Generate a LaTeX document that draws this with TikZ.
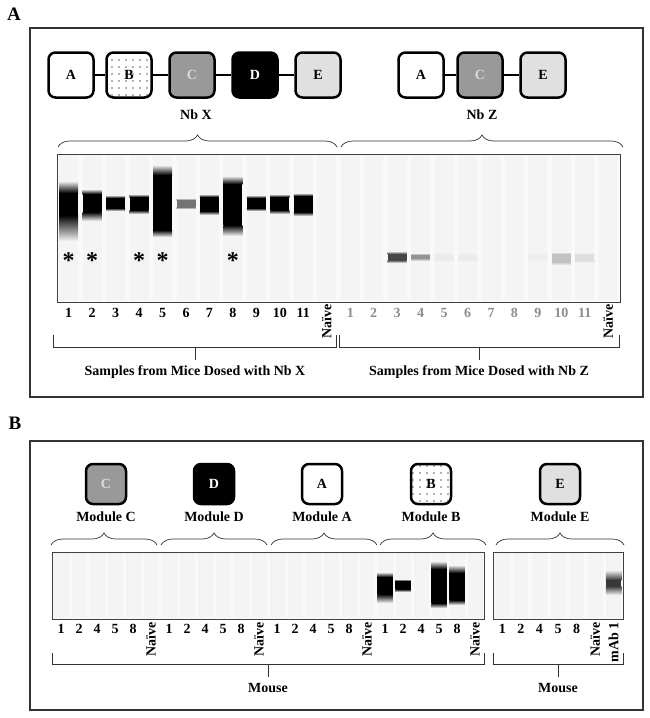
\documentclass[tikz,border=0pt]{standalone}
\usepackage{fontspec}
\setmainfont{Liberation Serif}
\usetikzlibrary{decorations.pathreplacing,patterns.meta}

\definecolor{modC}{gray}{0.6}
\definecolor{modE}{gray}{0.88}
\definecolor{gelbg}{gray}{0.975}
\definecolor{lanebg}{gray}{0.958}

% fuzzy gel band: x, width, fade top, core top, core bottom, fade bottom, colour
\newcommand{\gband}[7]{%
  \shade[top color=lanebg, bottom color=#7] ({#1-#2/2},#3) rectangle ({#1+#2/2},#4);
  \fill[#7] ({#1-#2/2},#4) rectangle ({#1+#2/2},#5);
  \shade[top color=#7, bottom color=lanebg] ({#1-#2/2},#5) rectangle ({#1+#2/2},#6);
}

\begin{document}
\begin{tikzpicture}[
    x=1pt, y=-1pt,
    every node/.style={font=\bfseries\fontsize{14}{16}\selectfont, inner sep=0pt},
    module/.style={draw, line width=2.5pt, rounded corners=7pt, minimum size=#1},
    dotted module/.style={module=#1, pattern={Dots[distance=7pt, radius=0.95pt]}, pattern color=black!60},
    link/.style={line width=2.5pt},
    panel/.style={draw=black!80, line width=1.2pt},
    gelbox/.style={draw=black!75, line width=1pt, fill=gelbg},
    topbrace/.style={decorate, decoration={brace, amplitude=12pt}, line width=0.7pt, draw=black!80},
    bracket/.style={line width=0.8pt, draw=black!80},
    naive/.style={rotate=90, anchor=east},
    ast/.style={font=\bfseries\fontsize{24}{24}\selectfont},
    panellabel/.style={font=\bfseries\fontsize{19}{19}\selectfont}
]
\useasboundingbox (0,0) rectangle (650,718);

% ---------------- Panel A ----------------
\node[panellabel] (labA) at (14,14) {A};
\draw[panel] (30,28) rectangle (643,397);

% Modules
\node[module=45] (xA) at (71,75) {A};
\node[dotted module=45] (xB) at (129,75) {B};
\node[module=45, fill=modC, text=black!15] (xC) at (192,75) {C};
\node[module=45, fill=black, text=white] (xD) at (255,75) {D};
\node[module=45, fill=modE] (xE) at (318,75) {E};
\node[module=45] (zA) at (421,75) {A};
\node[module=45, fill=modC, text=black!15] (zC) at (480,75) {C};
\node[module=45, fill=modE] (zE) at (543,75) {E};
\draw[link] (xA) -- (xB) -- (xC) -- (xD) -- (xE);
\draw[link] (zA) -- (zC) -- (zE);
\node (nbx) at (196,115) {Nb X};
\node (nbz) at (482,115) {Nb Z};

% Braces
\coordinate (bxl) at (58,147);  \coordinate (bxr) at (337,147);
\coordinate (bzl) at (341,147); \coordinate (bzr) at (623,147);
\draw[topbrace] (bxl) -- (bxr);
\draw[topbrace] (bzl) -- (bzr);

% Gel
\draw[gelbox] (57,154) rectangle (620,302);
\foreach \i in {1,...,24}
  \fill[lanebg] ({57+23.46*(\i-0.5)-9.5},155) rectangle ++(19,146);
\foreach \i/\a/\b/\c/\d/\col in {1/181/193/215/241/black, 2/189/194/212/221/black,
    3/195/198/208/211/black, 4/194/197/210/214/black, 5/165/175/230/237/black,
    6/198/200/207/209/black!55, 7/194/197/211/215/black, 8/176/184/225/236/black,
    9/195/198/208/211/black, 10/194/197/210/214/black, 11/193/196/212/216/black,
    15/251/254/260/263/black!72, 16/253/255/258/261/black!42, 17/252/255/259/262/black!8,
    18/252/255/259/262/black!8, 21/252/255/259/262/black!7, 22/252/254/262/265/black!24,
    23/252/255/260/263/black!13}
  \gband{57+23.46*(\i-0.5)}{19}{\a}{\b}{\c}{\d}{\col};
\foreach \i in {1,2,4,5,8}
  \node[ast] (ast\i) at ({57+23.46*(\i-0.5)},261) {*};

% Lane labels
\foreach \i in {1,...,11} {
  \node (nx\i) at ({57+23.46*(\i-0.5)},313) {\i};
  \node[text=black!45] (nz\i) at ({57+23.46*(\i+11.5)},313) {\i};
}
\node[naive] (nxN) at ({57+23.46*11.5},304) {Naïve};
\node[naive] (nzN) at ({57+23.46*23.5},304) {Naïve};

% Brackets
\coordinate (sxl) at (53,335);    \coordinate (sxr) at (336.5,335);
\coordinate (szl) at (339.5,335); \coordinate (szr) at (619,335);
\coordinate (sxt) at (195,347);   \coordinate (szt) at (479,347);
\draw[bracket] (sxl) -- ++(0,12) -| (sxr);
\draw[bracket] (szl) -- ++(0,12) -| (szr);
\draw[bracket] (sxt) -- ++(0,13);
\draw[bracket] (szt) -- ++(0,13);
\node (sxlab) at (195,372) {Samples from Mice Dosed with Nb X};
\node (szlab) at (479,372) {Samples from Mice Dosed with Nb Z};

% ---------------- Panel B ----------------
\node[panellabel] (labB) at (15,423) {B};
\draw[panel] (30,441) rectangle (643,710);

% Modules
\node[module=40, fill=modC, text=black!15] (mC) at (106,484) {C};
\node[module=40, fill=black, text=white] (mD) at (214,484) {D};
\node[module=40] (mA) at (322,484) {A};
\node[dotted module=40] (mB) at (431,484) {B};
\node[module=40, fill=modE] (mE) at (560,484) {E};
\foreach \m in {C,D,A,B,E}
  \node (lab\m) at ([yshift=-33]m\m.center) {Module \m};

% Braces
\foreach \m/\l/\r in {C/51/157, D/161/267, A/271/377, B/380/486, E/496/624} {
  \coordinate (b\m l) at (\l,545); \coordinate (b\m r) at (\r,545);
  \draw[topbrace] (b\m l) -- (b\m r);
}

% Gels
\draw[gelbox] (52,552) rectangle (484,619);
\draw[gelbox] (493,552) rectangle (623,619);
\foreach \i in {1,...,24}
  \fill[lanebg] ({52+18*(\i-0.5)-7.5},553) rectangle ++(15,65);
\foreach \i in {1,...,7}
  \fill[lanebg] ({493+18.57*(\i-0.5)-7.5},553) rectangle ++(15,65);
\foreach \i/\a/\b/\c/\d in {19/572/577/594/603, 20/579/581/589/592,
    22/561/569/603/608, 23/565/573/600/605}
  \gband{52+18*(\i-0.5)}{15.5}{\a}{\b}{\c}{\d}{black};
\gband{493+18.57*6.5}{15.5}{570}{580}{586}{595}{black!78}

% Lane labels
\foreach \g in {0,...,3} {
  \foreach \n [count=\k] in {1,2,4,5,8}
    \node (n\g-\k) at ({52+18*(6*\g+\k-0.5)},629) {\n};
  \node[naive] (n\g-N) at ({52+18*(6*\g+5.5)},622) {Naïve};
}
\foreach \n [count=\k] in {1,2,4,5,8}
  \node (e\k) at ({493+18.57*(\k-0.5)},629) {\n};
\node[naive] (eN) at ({493+18.57*5.5},622) {Naïve};
\node[naive] (eM) at ({493+18.57*6.5},622) {mAb 1};

% Brackets
\coordinate (ml) at (52,653);  \coordinate (mr) at (484,653);
\coordinate (el) at (493,653); \coordinate (er) at (623,653);
\coordinate (mt) at (268,664); \coordinate (et) at (558,664);
\draw[bracket] (ml) -- ++(0,11) -| (mr);
\draw[bracket] (el) -- ++(0,11) -| (er);
\draw[bracket] (mt) -- ++(0,13);
\draw[bracket] (et) -- ++(0,13);
\node (mlab) at (268,688) {Mouse};
\node (elab) at (558,688) {Mouse};

\end{tikzpicture}
\end{document}
